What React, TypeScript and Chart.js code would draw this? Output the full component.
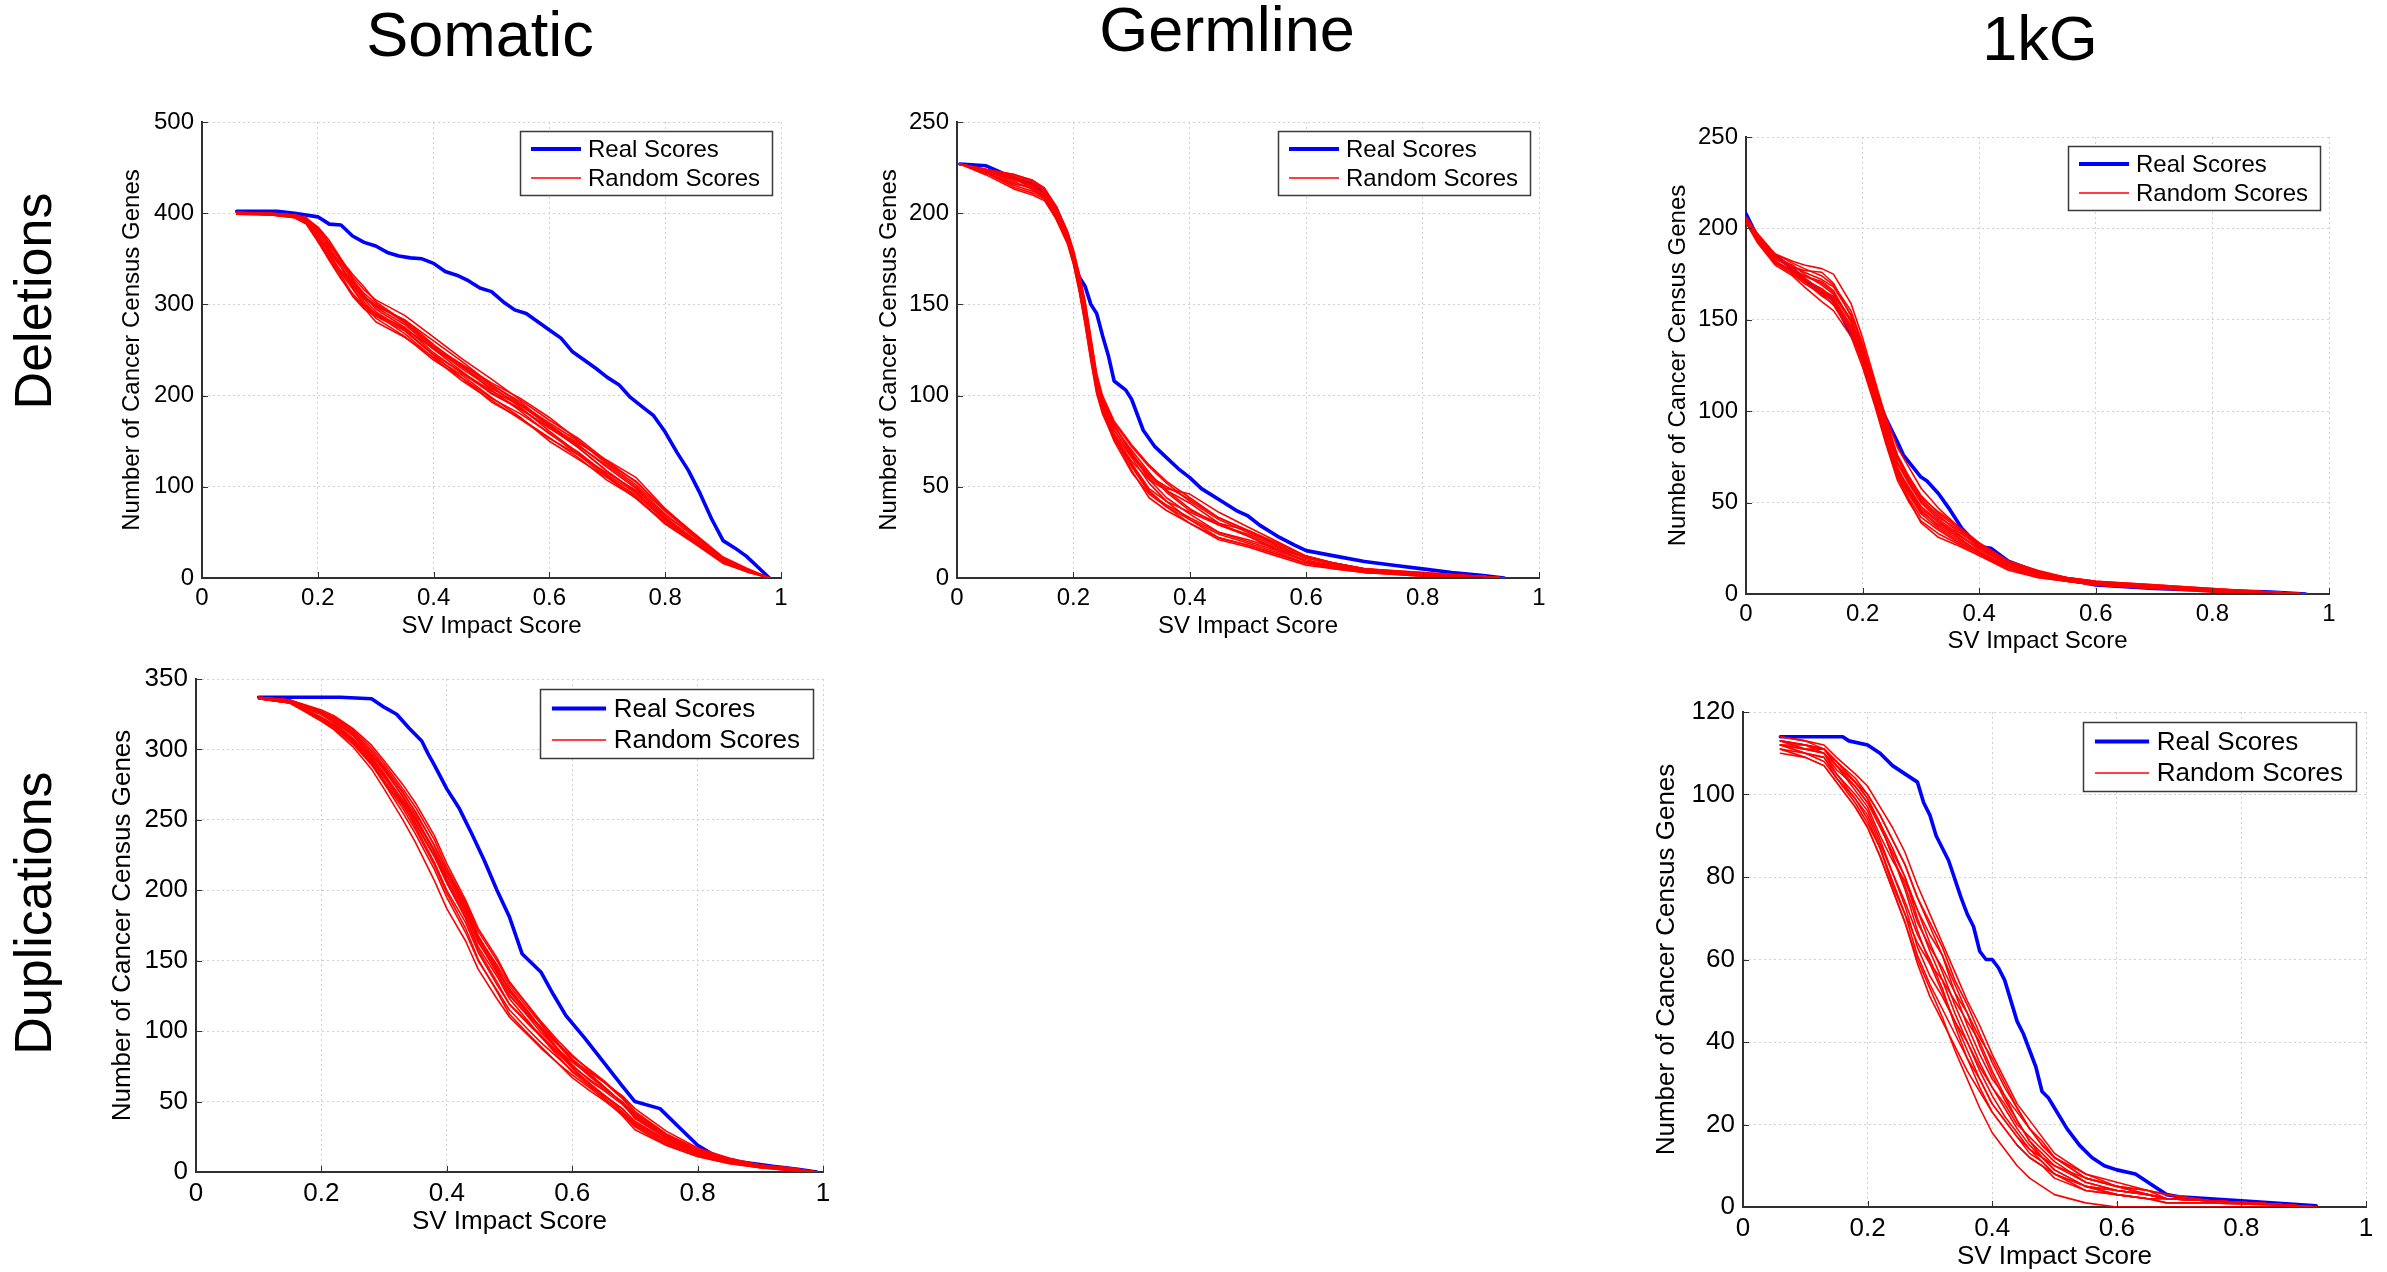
import React, { useEffect, useRef } from "react";
import { Chart, registerables } from "chart.js";

Chart.register(...registerables);

const FONT_FAMILY = '"Liberation Sans", Arial, Helvetica, sans-serif';
const BLUE = "#0000ff";
const RED = "#ff0000";

// ---------- labels ----------
const columnTitles = ["Somatic", "Germline", "1kG"];
const rowTitles = ["Deletions", "Duplications"];
const legendLabels = ["Real Scores", "Random Scores"];
const xAxisTitle = "SV Impact Score";
const yAxisTitle = "Number of Cancer Census Genes";
const xTicks = [0, 0.2, 0.4, 0.6, 0.8, 1];

// ---------- Somatic deletions ----------
const somDelYTicks = [0, 100, 200, 300, 400, 500];
const somDelRealX = [0.06, 0.13, 0.16, 0.2, 0.22, 0.24, 0.26, 0.28, 0.3, 0.32, 0.34, 0.36, 0.38, 0.4, 0.42, 0.44, 0.46, 0.48, 0.5, 0.52, 0.54, 0.56, 0.58, 0.6, 0.62, 0.64, 0.66, 0.68, 0.7, 0.72, 0.74, 0.76, 0.78, 0.8, 0.82, 0.84, 0.86, 0.88, 0.9, 0.92, 0.94, 0.96, 0.98];
const somDelRealY = [402, 402, 400, 396, 388, 387, 375, 368, 364, 357, 353, 351, 350, 345, 336, 332, 326, 318, 314, 303, 294, 290, 281, 272, 263, 248, 239, 230, 220, 212, 198, 188, 178, 160, 138, 118, 93, 65, 41, 33, 24, 12, 0];
const somDelRandX = [0.06, 0.12, 0.16, 0.18, 0.2, 0.22, 0.24, 0.26, 0.28, 0.3, 0.35, 0.4, 0.45, 0.5, 0.55, 0.6, 0.65, 0.7, 0.75, 0.8, 0.85, 0.9, 0.94, 0.98];
const somDelRand = [
  [401, 399, 398, 395, 383, 366, 347, 326, 309, 299, 283, 260, 237, 212, 191, 170, 150, 125, 102, 73, 47, 22, 10, 0],
  [399, 398, 395, 388, 369, 349, 334, 317, 299, 285, 265, 239, 219, 193, 175, 154, 132, 107, 88, 61, 39, 17, 7, 0],
  [400, 399, 397, 393, 379, 356, 336, 320, 307, 297, 278, 251, 226, 202, 185, 165, 143, 117, 94, 66, 43, 20, 9, 0],
  [401, 400, 398, 394, 385, 370, 350, 330, 316, 305, 288, 264, 240, 218, 195, 173, 153, 128, 105, 75, 49, 23, 11, 0],
  [399, 398, 395, 389, 371, 354, 332, 311, 296, 281, 264, 242, 222, 198, 176, 150, 130, 110, 91, 63, 40, 18, 8, 0],
  [400, 399, 397, 391, 376, 361, 345, 328, 310, 295, 275, 247, 224, 203, 186, 164, 145, 123, 100, 70, 45, 21, 9, 0],
  [400, 399, 396, 390, 373, 352, 337, 321, 308, 298, 283, 256, 232, 206, 183, 158, 138, 113, 93, 65, 42, 19, 9, 0],
  [401, 400, 398, 395, 381, 364, 349, 333, 319, 303, 281, 254, 234, 214, 197, 176, 151, 126, 106, 74, 48, 22, 10, 0],
  [400, 398, 396, 390, 372, 350, 329, 309, 295, 287, 271, 244, 219, 197, 180, 159, 135, 110, 87, 60, 39, 17, 8, 0],
  [400, 399, 397, 392, 378, 359, 342, 324, 306, 292, 272, 245, 225, 205, 189, 168, 146, 121, 98, 67, 42, 19, 9, 0],
  [399, 399, 396, 389, 370, 348, 328, 312, 298, 289, 273, 252, 233, 212, 193, 167, 143, 117, 94, 64, 41, 18, 8, 0],
  [401, 399, 398, 394, 382, 362, 342, 322, 303, 289, 268, 241, 216, 195, 174, 153, 135, 115, 96, 69, 46, 21, 10, 0],
  [400, 400, 398, 395, 384, 367, 348, 327, 312, 301, 280, 253, 229, 208, 190, 166, 148, 129, 110, 76, 48, 22, 10, 0],
  [400, 398, 396, 391, 374, 357, 341, 319, 300, 290, 274, 251, 231, 210, 187, 161, 137, 112, 89, 59, 38, 16, 7, 0],
];

// ---------- Germline deletions ----------
const gerDelYTicks = [0, 50, 100, 150, 200, 250];
const gerDelRealX = [0.005, 0.05, 0.1, 0.13, 0.15, 0.17, 0.19, 0.2, 0.21, 0.22, 0.23, 0.24, 0.25, 0.26, 0.27, 0.29, 0.3, 0.32, 0.34, 0.36, 0.38, 0.4, 0.42, 0.45, 0.48, 0.5, 0.52, 0.55, 0.58, 0.6, 0.65, 0.7, 0.75, 0.8, 0.85, 0.9, 0.94];
const gerDelRealY = [227, 226, 219, 216, 212, 203, 188, 175, 165, 160, 150, 145, 133, 122, 108, 103, 98, 81, 72, 66, 60, 55, 49, 43, 37, 34, 29, 23, 18, 15, 12, 9, 7, 5, 3, 1.5, 0];
const gerDelRandX = [0.005, 0.05, 0.1, 0.13, 0.15, 0.17, 0.19, 0.2, 0.21, 0.22, 0.23, 0.24, 0.25, 0.27, 0.3, 0.33, 0.36, 0.4, 0.45, 0.5, 0.55, 0.6, 0.65, 0.7, 0.8, 0.9, 0.94];
const gerDelRand = [
  [227, 224, 221, 218, 213, 203, 189, 178, 165, 150, 130, 110, 98, 84, 68, 57, 48, 38, 29, 24, 17, 11, 8, 5, 2, 1, 0],
  [227, 222, 214, 211, 208, 197, 184, 173, 158, 140, 120, 102, 91, 77, 59, 44, 37, 30, 22, 18, 13, 8, 5, 3, 2, 1, 0],
  [227, 223, 219, 215, 210, 201, 187, 177, 163, 147, 128, 109, 98, 85, 72, 61, 52, 42, 32, 25, 18, 11, 8, 4, 2, 1, 0],
  [227, 221, 213, 210, 207, 197, 183, 172, 157, 139, 119, 101, 90, 76, 62, 48, 39, 32, 24, 19, 14, 8, 6, 3, 1, 1, 0],
  [227, 224, 221, 218, 214, 204, 190, 180, 167, 152, 132, 112, 100, 86, 73, 62, 53, 44, 33, 26, 19, 12, 8, 5, 3, 1, 0],
  [227, 223, 217, 213, 209, 198, 185, 175, 161, 145, 125, 107, 94, 78, 61, 47, 40, 33, 25, 20, 15, 10, 6, 4, 2, 1, 0],
  [227, 222, 216, 214, 209, 201, 188, 176, 160, 143, 123, 104, 93, 78, 64, 54, 48, 41, 30, 23, 16, 9, 6, 3, 2, 1, 0],
  [227, 224, 220, 216, 212, 200, 186, 177, 164, 149, 129, 109, 97, 83, 69, 54, 44, 35, 25, 21, 16, 11, 7, 4, 2, 1, 0],
  [227, 223, 219, 213, 208, 199, 187, 174, 158, 143, 124, 106, 95, 81, 67, 56, 50, 43, 33, 26, 19, 12, 8, 5, 2, 1, 0],
  [227, 222, 216, 214, 211, 201, 185, 176, 163, 148, 128, 107, 94, 79, 66, 52, 42, 32, 22, 18, 13, 8, 6, 4, 2, 1, 0],
  [227, 224, 221, 217, 212, 202, 187, 179, 166, 151, 131, 111, 98, 83, 70, 58, 47, 37, 30, 26, 18, 11, 8, 5, 3, 1, 0],
  [227, 223, 218, 215, 210, 200, 186, 175, 160, 144, 123, 104, 92, 78, 63, 49, 42, 36, 29, 23, 15, 9, 7, 4, 2, 1, 0],
  [227, 222, 215, 212, 209, 198, 184, 173, 159, 142, 121, 103, 91, 75, 58, 46, 39, 30, 21, 17, 12, 7, 5, 3, 1, 1, 0],
  [227, 224, 219, 214, 209, 200, 187, 178, 165, 149, 128, 108, 96, 81, 67, 55, 49, 46, 36, 28, 20, 12, 8, 4, 2, 1, 0],
];

// ---------- 1kG deletions ----------
const kgDelYTicks = [0, 50, 100, 150, 200, 250];
const kgDelRealX = [0.0, 0.02, 0.05, 0.08, 0.1, 0.13, 0.15, 0.18, 0.2, 0.22, 0.24, 0.26, 0.27, 0.3, 0.31, 0.33, 0.35, 0.37, 0.4, 0.42, 0.45, 0.5, 0.55, 0.6, 0.7, 0.8, 0.9, 0.96];
const kgDelRealY = [208, 195, 185, 178, 172, 165, 161, 142, 132, 111, 96, 83, 76, 64, 62, 55, 46, 36, 26, 25, 18, 12, 8, 5, 3, 2, 1, 0];
const kgDelRandX = [0.0, 0.02, 0.05, 0.08, 0.1, 0.13, 0.15, 0.18, 0.2, 0.22, 0.24, 0.26, 0.28, 0.3, 0.33, 0.36, 0.4, 0.45, 0.5, 0.55, 0.6, 0.7, 0.8, 0.9, 0.96];
const kgDelRand = [
  [205, 196, 185, 179, 176, 172, 168, 153, 136, 116, 94, 76, 64, 54, 44, 37, 27, 18, 12, 9, 7, 4, 2, 1, 0],
  [204, 193, 181, 175, 170, 164, 158, 143, 126, 106, 84, 65, 54, 44, 36, 30, 22, 15, 10, 7, 5, 3, 2, 1, 0],
  [206, 197, 186, 182, 180, 178, 175, 159, 140, 118, 96, 75, 63, 52, 43, 35, 26, 17, 12, 8, 6, 4, 2, 1, 0],
  [205, 194, 182, 176, 172, 167, 162, 147, 130, 109, 87, 68, 58, 48, 40, 33, 25, 16, 11, 8, 6, 4, 2, 1, 0],
  [203, 192, 180, 174, 168, 160, 155, 141, 124, 104, 82, 62, 50, 40, 33, 28, 21, 14, 9, 7, 5, 3, 1, 1, 0],
  [206, 196, 184, 178, 174, 170, 165, 150, 133, 113, 91, 71, 60, 50, 41, 34, 24, 16, 11, 8, 6, 4, 2, 1, 0],
  [205, 195, 183, 179, 177, 176, 170, 152, 128, 107, 85, 66, 55, 45, 38, 32, 23, 15, 10, 8, 6, 4, 2, 1, 0],
  [204, 194, 182, 177, 173, 166, 161, 146, 131, 112, 92, 74, 62, 53, 45, 38, 28, 18, 13, 9, 7, 5, 3, 1, 0],
  [205, 195, 184, 180, 175, 169, 164, 149, 134, 114, 89, 69, 57, 47, 39, 33, 25, 17, 11, 8, 6, 4, 2, 1, 0],
  [206, 197, 185, 178, 171, 165, 160, 145, 129, 108, 86, 67, 56, 46, 37, 31, 23, 15, 10, 7, 5, 3, 2, 1, 0],
  [205, 196, 186, 181, 178, 174, 169, 155, 137, 115, 93, 72, 61, 51, 42, 36, 27, 17, 12, 9, 7, 5, 3, 1, 0],
  [204, 193, 182, 176, 171, 163, 159, 144, 127, 105, 83, 64, 52, 42, 35, 29, 22, 14, 10, 7, 6, 4, 2, 1, 0],
  [205, 195, 182, 175, 170, 166, 163, 150, 135, 116, 97, 80, 69, 58, 47, 38, 28, 18, 12, 9, 6, 4, 2, 1, 0],
  [205, 194, 181, 176, 174, 171, 166, 149, 132, 110, 87, 64, 51, 39, 31, 27, 21, 13, 9, 7, 5, 4, 2, 1, 0],
];

// ---------- Somatic duplications ----------
const somDupYTicks = [0, 50, 100, 150, 200, 250, 300, 350];
const somDupRealX = [0.1, 0.23, 0.28, 0.3, 0.32, 0.34, 0.36, 0.37, 0.38, 0.4, 0.42, 0.44, 0.46, 0.48, 0.5, 0.51, 0.52, 0.55, 0.57, 0.59, 0.62, 0.65, 0.68, 0.7, 0.74, 0.77, 0.8, 0.83, 0.87, 0.92, 0.96, 0.99];
const somDupRealY = [337, 337, 336, 330, 325, 315, 306, 297, 289, 272, 258, 240, 221, 200, 181, 168, 155, 142, 126, 111, 95, 78, 61, 50, 45, 32, 19, 11, 7, 4, 2, 0];
const somDupRandX = [0.1, 0.15, 0.2, 0.22, 0.25, 0.28, 0.3, 0.33, 0.35, 0.38, 0.4, 0.43, 0.45, 0.48, 0.5, 0.53, 0.55, 0.58, 0.6, 0.63, 0.65, 0.68, 0.7, 0.75, 0.8, 0.85, 0.9, 0.95, 0.99];
const somDupRand = [
  [337, 335, 327, 323, 314, 301, 290, 272, 259, 236, 216, 191, 171, 150, 134, 118, 107, 92, 83, 71, 64, 52, 42, 27, 16, 9, 5, 2, 0],
  [336, 333, 321, 315, 304, 289, 276, 255, 240, 215, 195, 170, 150, 129, 115, 101, 92, 80, 72, 62, 55, 45, 35, 22, 13, 7, 4, 2, 0],
  [337, 334, 325, 320, 311, 297, 286, 266, 251, 229, 211, 186, 164, 141, 125, 111, 102, 89, 79, 67, 60, 49, 40, 25, 15, 8, 4, 2, 0],
  [336, 333, 322, 317, 306, 291, 278, 260, 247, 224, 205, 180, 158, 135, 119, 105, 96, 83, 74, 62, 55, 43, 34, 21, 12, 7, 3, 2, 0],
  [336, 335, 328, 324, 315, 303, 292, 275, 262, 239, 219, 193, 173, 152, 135, 118, 106, 90, 80, 70, 64, 54, 45, 29, 17, 10, 5, 3, 0],
  [336, 333, 320, 314, 302, 286, 272, 250, 234, 207, 187, 164, 144, 123, 110, 97, 88, 76, 69, 59, 52, 40, 30, 19, 11, 6, 3, 1, 0],
  [336, 334, 325, 320, 310, 295, 282, 264, 251, 228, 208, 183, 163, 143, 130, 114, 102, 86, 76, 64, 58, 48, 39, 24, 14, 8, 4, 2, 0],
  [337, 335, 327, 322, 313, 299, 288, 270, 255, 232, 214, 190, 168, 145, 128, 112, 103, 90, 82, 72, 65, 53, 43, 27, 16, 9, 5, 2, 0],
  [336, 333, 322, 317, 307, 293, 281, 261, 245, 220, 200, 177, 156, 133, 119, 106, 97, 84, 74, 61, 53, 42, 33, 20, 12, 7, 4, 2, 0],
  [336, 334, 325, 319, 308, 294, 283, 263, 248, 225, 207, 185, 166, 145, 129, 113, 101, 85, 75, 65, 59, 50, 41, 26, 15, 9, 4, 2, 0],
  [336, 335, 326, 322, 312, 299, 287, 269, 256, 232, 213, 188, 166, 142, 126, 110, 99, 86, 78, 68, 61, 49, 39, 25, 15, 8, 4, 2, 0],
  [336, 333, 321, 316, 305, 290, 277, 258, 243, 218, 198, 173, 151, 128, 112, 98, 89, 76, 67, 57, 51, 41, 32, 19, 11, 6, 3, 1, 0],
  [336, 334, 323, 318, 307, 292, 280, 262, 250, 228, 210, 187, 167, 147, 132, 116, 105, 90, 80, 69, 61, 49, 38, 24, 14, 8, 4, 2, 0],
  [337, 335, 326, 321, 310, 296, 285, 267, 253, 227, 206, 181, 160, 139, 123, 107, 96, 81, 71, 60, 54, 45, 36, 23, 13, 8, 4, 2, 0],
];

// ---------- 1kG duplications ----------
const kgDupYTicks = [0, 20, 40, 60, 80, 100, 120];
const kgDupRealX = [0.06, 0.16, 0.17, 0.2, 0.22, 0.24, 0.26, 0.28, 0.29, 0.3, 0.31, 0.33, 0.35, 0.36, 0.37, 0.38, 0.39, 0.4, 0.41, 0.42, 0.44, 0.45, 0.46, 0.47, 0.48, 0.49, 0.5, 0.52, 0.54, 0.56, 0.58, 0.6, 0.63, 0.65, 0.68, 0.7, 0.8, 0.92];
const kgDupRealY = [114, 114, 113, 112, 110, 107, 105, 103, 98, 95, 90, 84, 75, 71, 68, 62, 60, 60, 58, 55, 45, 42, 38, 34, 28, 26.5, 24, 19, 15, 12, 10, 9, 8, 6, 3, 2.5, 1.5, 0.3];
const kgDupRandX = [0.06, 0.1, 0.13, 0.15, 0.18, 0.2, 0.22, 0.24, 0.26, 0.28, 0.3, 0.32, 0.34, 0.36, 0.38, 0.4, 0.42, 0.44, 0.46, 0.48, 0.5, 0.55, 0.6, 0.65, 0.68, 0.75, 0.85, 0.92];
const kgDupRand = [
  [113, 112, 111, 108, 104, 100, 95, 89, 83, 75, 69, 63, 55, 49, 42, 35, 29, 24, 19, 15, 12, 7, 5, 3, 2, 1.5, 0.7, 0],
  [111, 109, 107, 103, 97, 92, 85, 77, 69, 59, 51, 45, 39, 33, 28, 23, 19, 15, 12, 10, 7, 4, 3, 2, 2, 1.5, 0.7, 0],
  [112, 111, 110, 107, 102, 98, 92, 86, 80, 72, 64, 57, 49, 42, 35, 29, 25, 20, 17, 14, 11, 6, 4, 3, 2, 1.5, 0.7, 0],
  [114, 113, 112, 109, 105, 102, 97, 92, 86, 78, 71, 64, 57, 50, 44, 37, 31, 25, 21, 17, 13, 8, 6, 4, 3, 1.5, 0.7, 0],
  [110, 109, 107, 103, 97, 92, 85, 77, 69, 60, 53, 46, 38, 31, 24, 18, 14, 10, 7, 5, 3, 1, 0, 0, 0, 0, 0, 0],
  [112, 110, 109, 105, 99, 95, 88, 81, 73, 63, 56, 51, 45, 40, 34, 29, 24, 19, 15, 12, 9, 5, 4, 3, 2, 1.5, 0.7, 0],
  [113, 112, 111, 108, 103, 99, 93, 85, 77, 67, 59, 52, 45, 38, 31, 25, 21, 17, 14, 12, 10, 7, 5, 4, 2, 1.5, 0.7, 0],
  [111, 110, 109, 104, 99, 94, 87, 78, 71, 64, 59, 55, 50, 45, 40, 33, 27, 21, 16, 12, 9, 5, 3, 2, 1, 1, 0.5, 0],
  [112, 112, 111, 107, 101, 97, 90, 84, 79, 72, 66, 61, 54, 47, 39, 32, 26, 21, 16, 13, 10, 6, 4, 3, 2, 1.5, 0.7, 0],
  [113, 112, 110, 106, 102, 98, 93, 87, 80, 70, 62, 55, 47, 40, 33, 27, 22, 18, 14, 11, 8, 5, 4, 3, 2, 1.5, 0.7, 0],
  [112, 110, 108, 104, 98, 93, 87, 79, 71, 61, 54, 48, 42, 36, 31, 25, 21, 17, 13, 11, 8, 5, 3, 2, 2, 1.5, 0.7, 0],
  [114, 113, 111, 108, 103, 100, 95, 89, 83, 75, 68, 61, 52, 44, 37, 31, 27, 23, 19, 16, 12, 8, 5, 4, 3, 1.5, 0.7, 0],
  [112, 111, 110, 105, 100, 96, 89, 81, 74, 66, 60, 53, 44, 36, 29, 23, 19, 15, 12, 10, 8, 4, 3, 2, 1, 1, 0.5, 0],
  [113, 111, 111, 107, 103, 99, 93, 85, 78, 69, 63, 58, 52, 47, 41, 36, 30, 24, 19, 15, 12, 7, 5, 3, 2, 1.5, 0.7, 0],
];

// ---------- layout (plot-area boxes in page pixels) ----------
type PanelSpec = {
  key: string;
  left: number;
  top: number;
  right: number;
  bottom: number;
  fontSize: number;
  yTitleOffset: number;
  xTitleOffset: number;
  yTicks: number[];
  realX: number[];
  realY: number[];
  randX: number[];
  rand: number[][];
};

const panels: PanelSpec[] = [
  { key: "somDel", left: 202, top: 122, right: 781, bottom: 578, fontSize: 24, yTitleOffset: 70, xTitleOffset: 48, yTicks: somDelYTicks, realX: somDelRealX, realY: somDelRealY, randX: somDelRandX, rand: somDelRand },
  { key: "gerDel", left: 957, top: 122, right: 1539, bottom: 578, fontSize: 24, yTitleOffset: 68, xTitleOffset: 48, yTicks: gerDelYTicks, realX: gerDelRealX, realY: gerDelRealY, randX: gerDelRandX, rand: gerDelRand },
  { key: "kgDel", left: 1746, top: 137, right: 2329, bottom: 594, fontSize: 24, yTitleOffset: 68, xTitleOffset: 47, yTicks: kgDelYTicks, realX: kgDelRealX, realY: kgDelRealY, randX: kgDelRandX, rand: kgDelRand },
  { key: "somDup", left: 196, top: 679, right: 823, bottom: 1172, fontSize: 26, yTitleOffset: 73, xTitleOffset: 50, yTicks: somDupYTicks, realX: somDupRealX, realY: somDupRealY, randX: somDupRandX, rand: somDupRand },
  { key: "kgDup", left: 1743, top: 712, right: 2366, bottom: 1207, fontSize: 26, yTitleOffset: 76, xTitleOffset: 50, yTicks: kgDupYTicks, realX: kgDupRealX, realY: kgDupRealY, randX: kgDupRandX, rand: kgDupRand },
];

const YW = 110; // y-axis box width
const XH = 80; // x-axis box height
const PT = 24; // padding top
const PR = 20; // padding right

function makeDecorPlugin(fs: number, yTicks: number[]) {
  return {
    id: "boxLegend",
    afterDraw(chart: any) {
      const { ctx, chartArea } = chart;
      const xs = chart.scales.x;
      const ys = chart.scales.y;
      ctx.save();
      // inward tick marks
      ctx.strokeStyle = "#303030";
      ctx.lineWidth = 1;
      ctx.beginPath();
      xTicks.forEach((v) => {
        const px = Math.round(xs.getPixelForValue(v)) + 0.5;
        ctx.moveTo(px, chartArea.bottom);
        ctx.lineTo(px, chartArea.bottom - 6);
      });
      yTicks.forEach((v) => {
        const py = Math.round(ys.getPixelForValue(v)) + 0.5;
        ctx.moveTo(chartArea.left, py);
        ctx.lineTo(chartArea.left + 6, py);
      });
      ctx.stroke();

      // legend box
      const k = fs / 24;
      ctx.font = `${fs}px ${FONT_FAMILY}`;
      const tw = Math.max(ctx.measureText(legendLabels[0]).width, ctx.measureText(legendLabels[1]).width);
      const w = Math.round(68 * k + tw + 12 * k);
      const h = Math.round(64 * k);
      const right = Math.round(chartArea.right - 9 * k);
      const top = Math.round(chartArea.top + 9 * k);
      const left = right - w;
      ctx.fillStyle = "#ffffff";
      ctx.fillRect(left, top, w, h);
      ctx.strokeStyle = "#3a3a3a";
      ctx.lineWidth = 1.5;
      ctx.strokeRect(left + 0.5, top + 0.5, w, h);
      const rows = [
        { y: top + 18 * k, color: BLUE, width: 4 },
        { y: top + 47 * k, color: RED, width: 1.5 },
      ];
      rows.forEach((r, i) => {
        ctx.beginPath();
        ctx.strokeStyle = r.color;
        ctx.lineWidth = r.width;
        ctx.moveTo(left + 11 * k, r.y);
        ctx.lineTo(left + 61 * k, r.y);
        ctx.stroke();
        ctx.fillStyle = "#000000";
        ctx.textBaseline = "middle";
        ctx.textAlign = "left";
        ctx.fillText(legendLabels[i], left + 68 * k, r.y + 1);
      });
      ctx.restore();
    },
  };
}

function toPoints(xs: number[], ys: number[]) {
  return xs.map((x, i) => ({ x, y: ys[i] }));
}

function Panel({ p }: { p: PanelSpec }) {
  const ref = useRef<HTMLCanvasElement | null>(null);
  const w = p.right - p.left + YW + PR;
  const h = p.bottom - p.top + PT + XH;

  useEffect(() => {
    if (!ref.current) return;
    const font = { family: FONT_FAMILY, size: p.fontSize };
    const lh = p.fontSize * 1.2;
    const datasets: any[] = p.rand.map((ys) => ({
      label: legendLabels[1],
      data: toPoints(p.randX, ys),
      borderColor: RED,
      borderWidth: 1.6,
      pointRadius: 0,
      fill: false,
      tension: 0,
    }));
    datasets.push({
      label: legendLabels[0],
      data: toPoints(p.realX, p.realY),
      borderColor: BLUE,
      borderWidth: 3.6,
      pointRadius: 0,
      fill: false,
      tension: 0,
    });
    const yMin = p.yTicks[0];
    const yMax = p.yTicks[p.yTicks.length - 1];
    const chart = new Chart(ref.current, {
      type: "line",
      data: { datasets },
      options: {
        responsive: false,
        animation: false,
        devicePixelRatio: 1,
        layout: { padding: { top: PT, right: PR, left: 0, bottom: 0 } },
        plugins: { legend: { display: false }, tooltip: { enabled: false } },
        elements: { point: { radius: 0 }, line: { borderJoinStyle: "round", borderCapStyle: "round" } },
        scales: {
          x: {
            type: "linear",
            min: xTicks[0],
            max: xTicks[xTicks.length - 1],
            afterBuildTicks: (s: any) => {
              s.ticks = xTicks.map((v) => ({ value: v }));
            },
            afterFit: (s: any) => {
              s.height = XH;
            },
            ticks: { font, color: "#000", padding: 6, maxRotation: 0, autoSkip: false, callback: (v: any) => String(Math.round(Number(v) * 10) / 10) },
            grid: { color: "#d0d0d0", lineWidth: 1, drawTicks: false },
            border: { display: true, color: "#303030", width: 2, dash: [2, 3] },
            title: { display: true, text: xAxisTitle, font, color: "#000", padding: { top: 0, bottom: XH - lh / 2 - p.xTitleOffset } },
          },
          y: {
            type: "linear",
            min: yMin,
            max: yMax,
            afterBuildTicks: (s: any) => {
              s.ticks = p.yTicks.map((v) => ({ value: v }));
            },
            afterFit: (s: any) => {
              s.width = YW;
            },
            ticks: { font, color: "#000", padding: 8, autoSkip: false, callback: (v: any) => String(v) },
            grid: { color: "#d0d0d0", lineWidth: 1, drawTicks: false },
            border: { display: true, color: "#303030", width: 2, dash: [2, 3] },
            title: { display: true, text: yAxisTitle, font, color: "#000", padding: { top: YW - p.yTitleOffset - lh / 2, bottom: 0 } },
          },
        },
      } as any,
      plugins: [makeDecorPlugin(p.fontSize, p.yTicks)],
    });
    return () => chart.destroy();
  }, []);

  return (
    <canvas
      ref={ref}
      width={w}
      height={h}
      style={{ position: "absolute", left: p.left - YW, top: p.top - PT, width: w, height: h }}
    />
  );
}

const textBase: React.CSSProperties = {
  position: "absolute",
  fontFamily: FONT_FAMILY,
  color: "#000",
  lineHeight: 1,
  whiteSpace: "nowrap",
};

export default function App() {
  const colTitlePos = [
    { x: 480, y: 34 },
    { x: 1227, y: 29 },
    { x: 2040, y: 38 },
  ];
  const rowTitlePos = [
    { x: 33, y: 301 },
    { x: 33, y: 913 },
  ];
  return (
    <div style={{ position: "absolute", left: 0, top: 0, width: 2387, height: 1272, overflow: "hidden", background: "#fff" }}>
      {columnTitles.map((t, i) => (
        <div key={t} style={{ ...textBase, fontSize: 63, left: colTitlePos[i].x, top: colTitlePos[i].y, transform: "translate(-50%, -50%)" }}>
          {t}
        </div>
      ))}
      {rowTitles.map((t, i) => (
        <div key={t} style={{ ...textBase, fontSize: 52, left: rowTitlePos[i].x, top: rowTitlePos[i].y, transform: "translate(-50%, -50%) rotate(-90deg)" }}>
          {t}
        </div>
      ))}
      {panels.map((p) => (
        <Panel key={p.key} p={p} />
      ))}
    </div>
  );
}
